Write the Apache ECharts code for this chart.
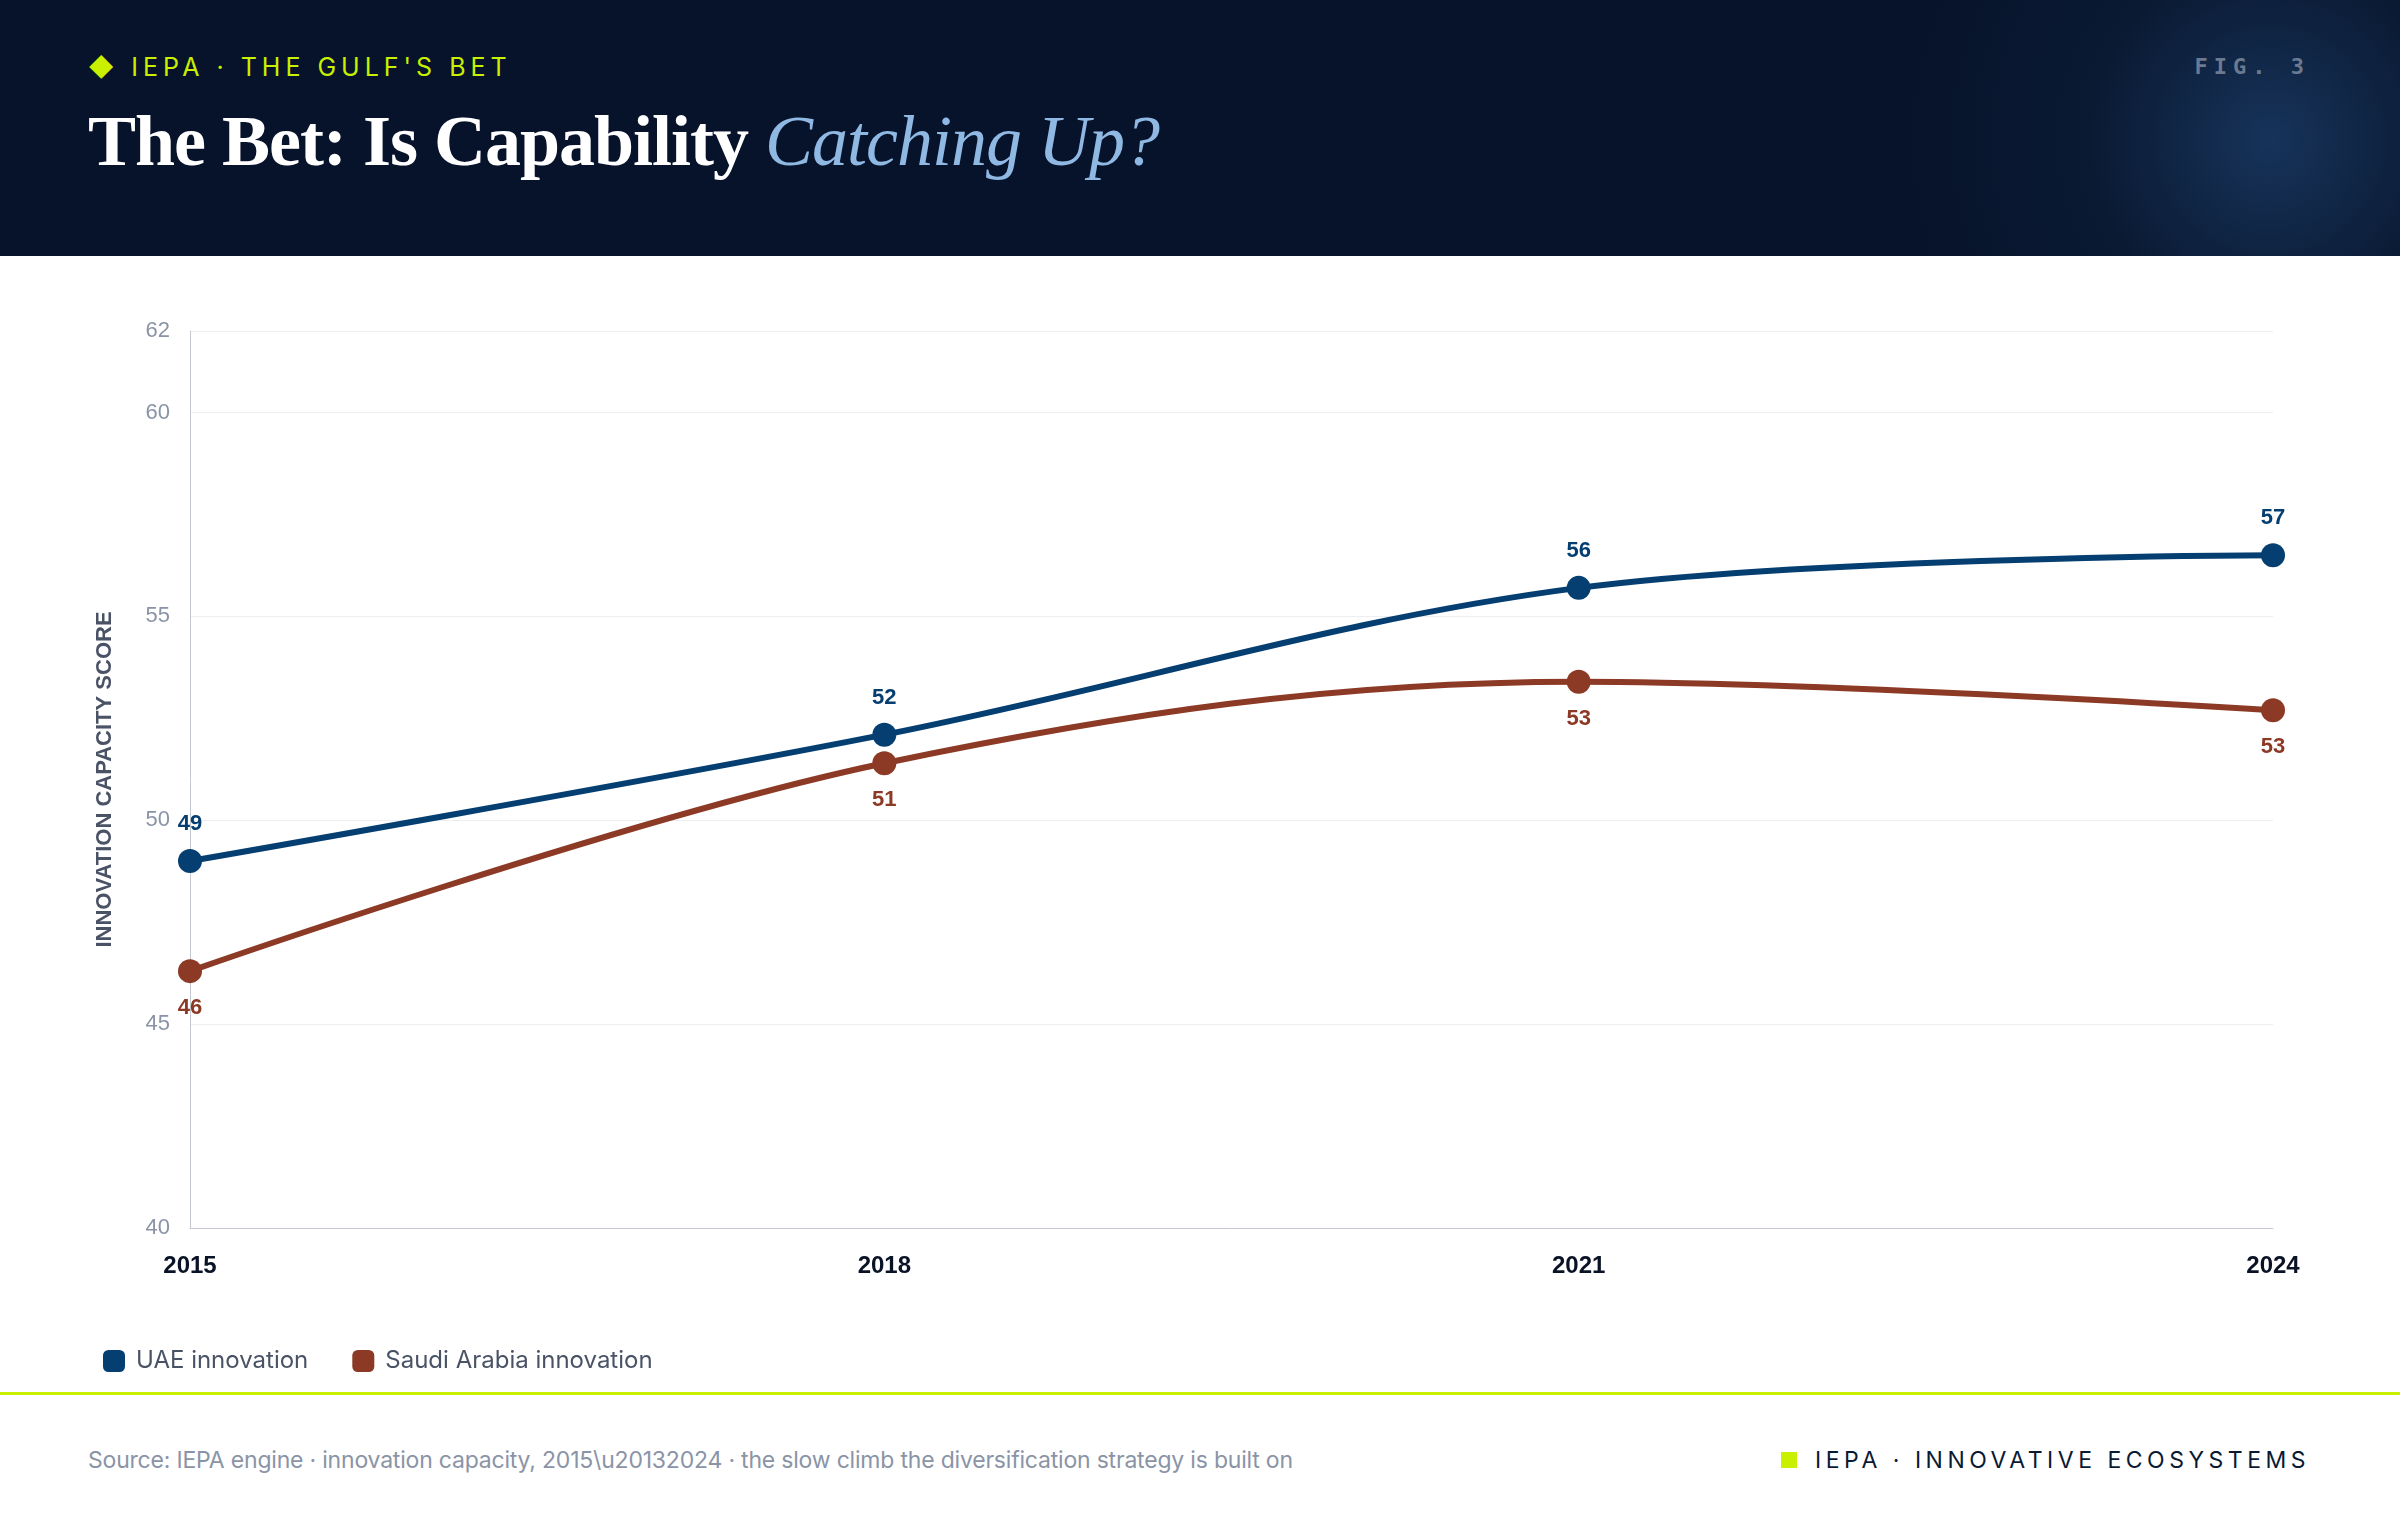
<!DOCTYPE html>
<html><head><meta charset="utf-8">
<script src="https://cdn.jsdelivr.net/npm/echarts@6/dist/echarts.min.js"></script>
<style>
body{margin:0;width:2400px;height:1520px;background:#fff;font-family:Inter,"Noto Sans",sans-serif;overflow:hidden;position:relative}
#hdr{position:absolute;left:0;top:0;width:2400px;height:256px;background:radial-gradient(circle at 2270px 140px,#17335a 0,#0a1a33 180px,#07132b 360px);}
#kick{position:absolute;left:88px;top:52px;color:#c8f000;font-size:25px;letter-spacing:5px;font-family:Inter,sans-serif}
#fig{position:absolute;right:90px;top:54px;color:#6b7a90;font-size:22px;letter-spacing:6px;font-family:"DejaVu Sans Mono",monospace;font-weight:bold}
#title{position:absolute;left:88px;top:100px;color:#fff;font-size:72px;font-weight:bold;font-family:"Liberation Serif","DejaVu Serif",serif;letter-spacing:-1px}
#title i{color:#8fb8e3;font-weight:normal}
#chart{position:absolute;left:0;top:256px;width:2400px;height:1136px}
#rule{position:absolute;left:0;top:1392px;width:2400px;height:3px;background:#c8f000}
#src{position:absolute;left:88px;top:1446px;color:#8a94a6;font-size:23px;letter-spacing:-0.2px}
#brand{position:absolute;right:90px;top:1446px;color:#0a1a33;font-size:23px;letter-spacing:4.5px}
#brand span{display:inline-block;width:16px;height:16px;background:#c8f000;margin-right:18px}
</style></head><body>
<div id="hdr"><div id="kick">◆ IEPA · THE GULF'S BET</div><div id="fig">FIG. 3</div>
<div id="title">The Bet: Is Capability <i>Catching Up?</i></div></div>
<div id="chart"></div>
<div id="rule"></div>
<div id="src">Source: IEPA engine · innovation capacity, 2015\u20132024 · the slow climb the diversification strategy is built on</div>
<div id="brand"><span></span>IEPA · INNOVATIVE ECOSYSTEMS</div>
<script>
const years=['2015','2018','2021','2024'];
const uae=[49.0,52.1,55.7,56.5];
const saudi=[46.3,51.4,53.4,52.7];
const c=echarts.init(document.getElementById('chart'));
const lbl=(pos,col)=>({show:true,position:pos,distance:14,color:col,fontSize:22,fontWeight:'bold',fontFamily:'Liberation Sans, Arial',formatter:p=>Math.round(p.value)});
c.setOption({
 grid:{left:190,right:127,top:75,bottom:164},
 legend:{left:98,top:1088,itemWidth:22,itemHeight:22,itemGap:44,icon:'roundRect',textStyle:{color:'#4a5366',fontSize:24,fontFamily:'Inter',padding:[0,0,0,6]},data:['UAE innovation','Saudi Arabia innovation']},
 xAxis:{type:'category',data:years,boundaryGap:false,axisLine:{lineStyle:{color:'#c4c8d0'}},axisTick:{show:false},
  axisLabel:{color:'#0a1226',fontSize:24,fontWeight:'bold',fontFamily:'Liberation Sans, Arial',margin:26}},
 yAxis:{type:'value',min:40,max:62,interval:5,name:'INNOVATION CAPACITY SCORE',nameLocation:'middle',nameGap:74,
  nameTextStyle:{color:'#4a5366',fontSize:22,fontWeight:'bold',fontFamily:'Liberation Sans, Arial'},
  axisLine:{show:true,lineStyle:{color:'#c4c8d0'}},axisLabel:{color:'#8a94a6',fontSize:22,margin:20,showMaxLabel:true},
  splitLine:{lineStyle:{color:'#eceef1'}}},
 series:[
  {name:'UAE innovation',type:'line',smooth:0.35,data:uae,color:'#053e70',symbol:'circle',symbolSize:24,
   lineStyle:{width:6},label:lbl('top','#053e70')},
  {name:'Saudi Arabia innovation',type:'line',smooth:0.35,data:saudi,color:'#8c3a26',symbol:'circle',symbolSize:24,
   lineStyle:{width:6},label:lbl('bottom','#8c3a26')}
 ]
});
</script></body></html>
